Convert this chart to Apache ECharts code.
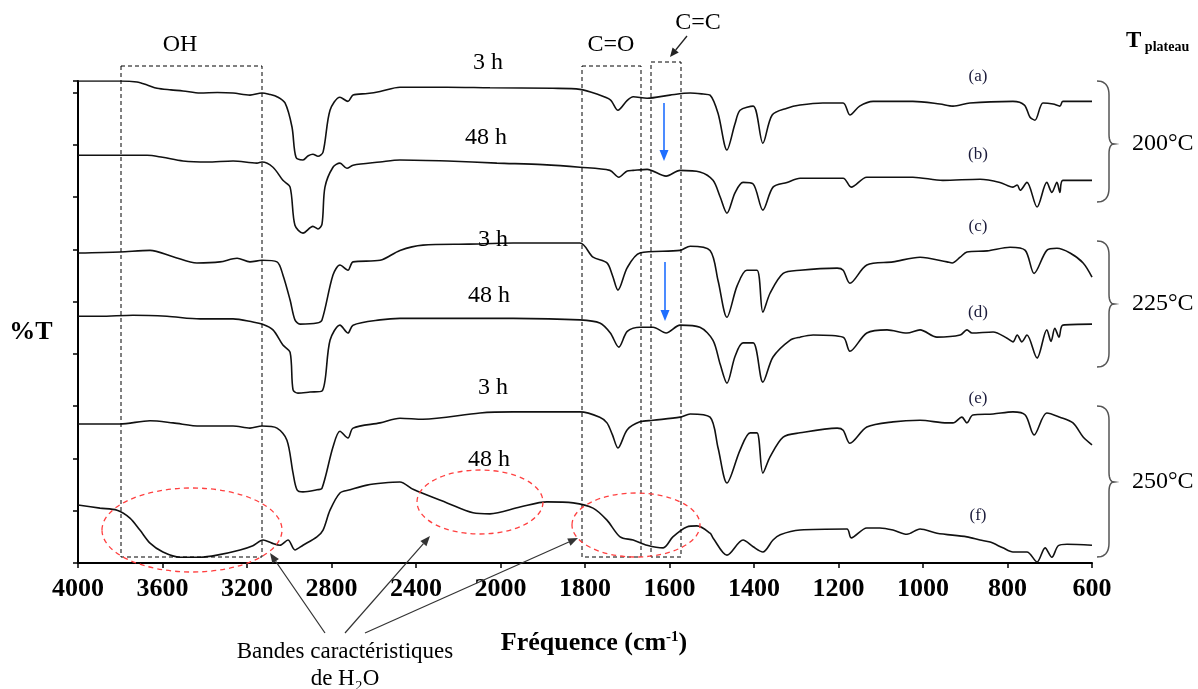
<!DOCTYPE html>
<html><head><meta charset="utf-8">
<script src="https://cdn.jsdelivr.net/npm/echarts@6/dist/echarts.min.js"></script>
<style>html,body{margin:0;padding:0;background:#fff}#c{width:1198px;height:689px}</style>
</head><body><div id="c"></div>
<script>
// x tick labels (wavenumber, cm-1): 400 steps above 2000, 200 steps below
const tickLabels = ['4000','3600','3200','2800','2400','2000','1800','1600','1400','1200','1000','800','600'];
const seriesNames = ['(a) 200°C 3 h','(b) 200°C 48 h','(c) 225°C 3 h','(d) 225°C 48 h','(e) 250°C 3 h','(f) 250°C 48 h'];

// [wavenumber cm-1, %T (offset, arbitrary units)]
const specA = [[4000,92.2],[3800,92.2],[3721,92.0],[3670,91.4],[3626,90.8],[3560,90.5],[3503,90.3],[3422,89.9],[3340,90.0],[3266,89.9],[3186,89.5],[3129,89.9],[3090,89.6],[3058,89.2],[3020,88.0],[2987,83.4],[2968,77.6],[2935,77.1],[2910,77.9],[2888,78.2],[2864,77.8],[2840,78.6],[2807,86.6],[2760,89.1],[2722,88.3],[2698,89.5],[2630,89.8],[2570,90.2],[2476,91.0],[2253,91.0],[2050,90.9],[1876,90.8],[1812,90.6],[1772,89.7],[1740,88.6],[1722,86.6],[1700,88.5],[1686,89.2],[1653,88.9],[1599,89.5],[1551,89.9],[1520,89.7],[1504,89.5],[1485,86.0],[1464,79.0],[1445,84.0],[1433,86.6],[1402,87.4],[1379,80.3],[1357,85.7],[1322,87.0],[1291,87.6],[1237,88.0],[1189,88.0],[1173,85.7],[1150,87.4],[1118,88.3],[1024,88.3],[960,87.8],[929,87.4],[889,88.0],[787,88.3],[760,87.6],[747,85.3],[735,84.7],[716,88.0],[692,87.8],[676,87.4],[669,88.3],[600,88.3]];
const specB = [[4000,78.0],[3673,78.0],[3600,77.6],[3503,76.9],[3389,76.7],[3266,76.9],[3153,76.5],[3129,76.7],[3077,75.7],[3030,73.2],[2996,71.9],[2973,64.6],[2935,63.1],[2888,64.4],[2864,63.9],[2845,64.8],[2831,71.9],[2793,75.7],[2760,76.5],[2727,75.5],[2698,76.1],[2570,76.7],[2476,77.1],[2250,76.9],[2017,76.5],[1900,76.2],[1812,75.7],[1741,75.1],[1720,73.8],[1700,75.0],[1686,75.1],[1653,75.3],[1608,74.0],[1575,75.1],[1528,74.8],[1497,73.2],[1480,70.0],[1464,66.9],[1445,70.8],[1426,72.8],[1402,72.5],[1379,67.5],[1355,71.9],[1322,72.8],[1291,73.6],[1189,73.6],[1170,71.9],[1133,73.8],[1024,73.8],[953,73.2],[865,73.4],[818,72.8],[787,71.9],[777,72.3],[770,71.3],[754,72.8],[730,68.1],[707,72.8],[695,70.9],[683,72.8],[676,70.9],[669,73.2],[600,73.2]];
const specC = [[4000,59.3],[3801,59.5],[3659,59.8],[3550,58.6],[3437,57.4],[3328,57.6],[3247,58.3],[3186,57.6],[3129,57.9],[3058,57.6],[3030,55.1],[2996,50.3],[2973,46.5],[2949,45.7],[2869,45.9],[2845,46.5],[2793,55.1],[2760,57.0],[2722,56.0],[2698,57.6],[2570,57.9],[2476,59.8],[2367,60.8],[2150,61.0],[1970,61.2],[1812,61.2],[1781,58.5],[1748,57.4],[1735,55.0],[1722,52.2],[1700,56.5],[1670,59.3],[1575,59.8],[1551,60.6],[1504,59.8],[1485,54.0],[1464,47.0],[1440,53.0],[1417,56.0],[1393,56.0],[1379,48.0],[1362,51.6],[1331,55.4],[1291,56.0],[1203,56.4],[1189,56.0],[1173,53.5],[1133,57.0],[1071,57.6],[1007,58.5],[943,57.6],[931,57.4],[912,58.5],[896,59.5],[848,59.7],[794,60.4],[758,59.8],[737,55.4],[707,59.8],[683,60.2],[652,59.3],[621,57.4],[600,54.7]];
const specD = [[4000,47.2],[3896,47.2],[3740,47.4],[3579,47.2],[3422,46.7],[3266,46.7],[3172,46.1],[3129,45.7],[3077,44.6],[3030,41.7],[2996,40.3],[2982,33.1],[2959,32.5],[2902,32.7],[2845,32.9],[2807,42.6],[2760,45.5],[2722,44.0],[2698,45.5],[2570,46.5],[2476,46.8],[2367,46.8],[1970,46.8],[1812,46.5],[1765,45.9],[1740,44.0],[1720,41.3],[1700,44.3],[1670,45.1],[1639,45.1],[1608,44.0],[1575,45.5],[1528,45.1],[1497,42.6],[1480,38.0],[1464,34.4],[1445,39.5],[1426,42.1],[1402,42.1],[1379,34.6],[1355,39.4],[1315,42.6],[1291,43.2],[1260,43.6],[1189,43.2],[1173,40.5],[1133,44.0],[1085,44.6],[1038,44.0],[1007,44.6],[967,43.2],[912,43.6],[896,44.6],[884,44.0],[834,44.2],[801,43.0],[787,42.3],[777,43.6],[766,42.3],[754,43.6],[730,39.2],[707,44.6],[697,42.4],[688,44.9],[678,43.2],[669,45.5],[600,45.7]];
const specE = [[4000,26.6],[3801,26.6],[3659,27.2],[3550,26.8],[3422,26.2],[3266,26.2],[3186,25.8],[3129,26.2],[3058,25.8],[3011,23.5],[2982,17.2],[2963,14.0],[2935,13.6],[2869,14.0],[2845,14.3],[2793,22.2],[2760,25.2],[2722,23.9],[2698,25.8],[2570,26.8],[2476,27.7],[2367,27.5],[2097,28.7],[1970,28.9],[1812,28.9],[1765,27.9],[1748,26.8],[1735,24.5],[1722,22.0],[1700,25.5],[1670,27.0],[1639,27.3],[1575,27.9],[1551,28.5],[1504,27.9],[1485,22.0],[1464,15.3],[1433,21.6],[1409,24.9],[1393,24.9],[1379,17.2],[1362,20.3],[1331,24.1],[1291,24.9],[1203,25.8],[1189,25.4],[1173,22.9],[1133,26.0],[1071,27.0],[1007,27.3],[943,26.8],[929,26.8],[908,27.9],[896,26.8],[882,28.3],[834,28.5],[787,28.9],[758,28.3],[737,24.5],[707,28.7],[676,27.9],[645,26.8],[621,24.1],[600,22.6]];
const specF = [[4000,11.1],[3896,10.5],[3815,10.1],[3754,8.6],[3707,6.3],[3659,3.8],[3598,2.1],[3517,1.1],[3422,1.1],[3342,1.5],[3233,2.5],[3172,3.3],[3124,4.4],[3082,3.8],[3044,3.4],[3006,4.4],[2973,2.5],[2935,3.4],[2869,5.0],[2840,6.3],[2807,10.1],[2760,13.4],[2712,14.0],[2632,14.9],[2556,15.3],[2476,15.5],[2414,14.1],[2253,11.5],[2130,9.6],[2050,9.4],[1954,10.7],[1890,11.7],[1828,11.5],[1781,10.5],[1748,8.2],[1717,5.0],[1686,4.4],[1653,3.4],[1615,2.9],[1592,5.0],[1559,6.9],[1535,7.1],[1504,5.7],[1497,4.8],[1464,1.5],[1426,4.4],[1402,3.1],[1379,2.1],[1355,4.4],[1338,5.4],[1291,6.3],[1180,6.5],[1170,4.8],[1133,6.7],[1102,6.7],[1071,6.3],[1038,5.5],[1007,6.5],[967,5.7],[896,5.0],[865,4.4],[841,4.0],[811,2.9],[787,2.1],[754,2.1],[730,0.2],[711,2.9],[695,1.1],[680,3.3],[659,3.6],[600,3.4]];

const spectra = [specA, specB, specC, specD, specE, specF];

// piecewise wavenumber scale: 400 cm-1 per tick above 2000, 200 cm-1 per tick below
function u(w) { return w >= 2000 ? (4000 - w) / 400 : 5 + (2000 - w) / 200; }

const SERIF = '"Liberation Serif", "DejaVu Serif", serif';
const chart = echarts.init(document.getElementById('c'), null, { renderer: 'canvas' });

function txt(x, y, text, size, opts) {
  opts = opts || {};
  return { type: 'text', x: x, y: y, z: 100, style: Object.assign({ text: text, fontFamily: SERIF, fontSize: size,
    fontWeight: opts.bold ? 'bold' : 'normal', fill: opts.color || '#000', align: opts.align || 'center', verticalAlign: 'middle' }, opts.extra || {}) };
}
function arrow(x1, y1, x2, y2, color, w, hl, hw) {
  const a = Math.atan2(y2 - y1, x2 - x1);
  const bx = x2 - hl * Math.cos(a), by = y2 - hl * Math.sin(a);
  const px = -Math.sin(a) * hw / 2, py = Math.cos(a) * hw / 2;
  return [
    { type: 'line', z: 100, shape: { x1: x1, y1: y1, x2: bx, y2: by }, style: { stroke: color, lineWidth: w } },
    { type: 'polygon', z: 100, shape: { points: [[x2, y2], [bx + px, by + py], [bx - px, by - py]] }, style: { fill: color } }
  ];
}
function quad(p0, p1, p2, n, out) {
  for (let i = 0; i <= n; i++) {
    const t = i / n, s = 1 - t;
    out.push([s * s * p0[0] + 2 * s * t * p1[0] + t * t * p2[0], s * s * p0[1] + 2 * s * t * p1[1] + t * t * p2[1]]);
  }
}
function brace(x0, y0, y1, ym) {
  const xv = x0 + 12, xt = x0 + 17;
  const pts = [];
  quad([x0, y0], [xv, y0], [xv, y0 + 14], 10, pts);
  quad([xv, ym - 10], [xv, ym], [xt, ym], 8, pts);
  quad([xt, ym], [xv, ym], [xv, ym + 10], 8, pts);
  quad([xv, y1 - 14], [xv, y1], [x0, y1], 10, pts);
  return { type: 'polyline', z: 100, shape: { points: pts }, style: { fill: 'none', stroke: '#555', lineWidth: 1.5 } };
}
function dashRect(x, y, w, h) {
  return { type: 'rect', z: 90, shape: { x: x, y: y, width: w, height: h }, style: { fill: 'none', stroke: '#000', lineWidth: 1, lineDash: [4, 3] } };
}
function ell(cx, cy, rx, ry) {
  return { type: 'ellipse', z: 95, shape: { cx: cx, cy: cy, rx: rx, ry: ry }, style: { fill: 'none', stroke: '#ff4040', lineWidth: 1.3, lineDash: [5, 4] } };
}

const graphics = [].concat(
  [dashRect(121, 66, 141, 491), dashRect(582, 66, 59, 491), dashRect(651, 62, 30, 495)],
  [ell(192, 530, 90, 42), ell(480, 502, 63, 32), ell(636, 525, 64, 32)],
  [txt(180, 45, 'OH', 24), txt(611, 45, 'C=O', 24), txt(698, 23, 'C=C', 24)],
  arrow(687, 36, 670, 57, '#222', 1.3, 9, 8),
  arrow(664, 103, 664, 161, '#1f6fff', 1.6, 11, 9),
  arrow(665, 262, 665, 321, '#1f6fff', 1.6, 11, 9),
  [txt(488, 63, '3 h', 24), txt(486, 138, '48 h', 24), txt(493, 240, '3 h', 24), txt(489, 296, '48 h', 24), txt(493, 388, '3 h', 24), txt(489, 460, '48 h', 24)],
  [txt(978, 77, '(a)', 17, { color: '#1c1c3c' }), txt(978, 155, '(b)', 17, { color: '#1c1c3c' }), txt(978, 227, '(c)', 17, { color: '#1c1c3c' }),
   txt(978, 313, '(d)', 17, { color: '#1c1c3c' }), txt(978, 399, '(e)', 17, { color: '#1c1c3c' }), txt(978, 516, '(f)', 17, { color: '#1c1c3c' })],
  [brace(1097, 81, 202, 144), brace(1097, 241, 367, 304), brace(1097, 406, 557, 482)],
  [txt(1132, 144, '200°C', 24, { align: 'left' }), txt(1132, 304, '225°C', 24, { align: 'left' }), txt(1132, 482, '250°C', 24, { align: 'left' })],
  [{ type: 'text', x: 1126, y: 28, z: 100, style: { text: '{t|T}{s| plateau}', fontFamily: SERIF, fill: '#000',
      rich: { t: { fontFamily: SERIF, fontSize: 23, fontWeight: 'bold', fill: '#000' },
              s: { fontFamily: SERIF, fontSize: 14, fontWeight: 'bold', fill: '#000', padding: [12, 0, 0, 0] } } } }],
  [txt(31, 332, '%T', 26, { bold: true })],
  [{ type: 'text', x: 594, y: 643, z: 100, style: { text: '{a|Fréquence (cm}{s|-1}{a|)}', fontFamily: SERIF, fill: '#000', align: 'center', verticalAlign: 'middle',
      rich: { a: { fontFamily: SERIF, fontSize: 26, fontWeight: 'bold', fill: '#000' },
              s: { fontFamily: SERIF, fontSize: 15, fontWeight: 'bold', fill: '#000', padding: [0, 0, 12, 0] } } } }],
  [txt(345, 652, 'Bandes caractéristiques', 23), txt(345, 679, 'de H₂O', 23)],
  arrow(325, 633, 270, 553, '#333', 1.2, 10, 8),
  arrow(345, 633, 430, 536, '#333', 1.2, 10, 8),
  arrow(365, 633, 578, 538, '#333', 1.2, 10, 8)
);

const option = {
  animation: false,
  backgroundColor: '#fff',
  grid: { left: 78, right: 106, top: 81, bottom: 126 },
  xAxis: {
    type: 'value', min: 0, max: 12, interval: 1,
    axisLine: { show: true, lineStyle: { color: '#000', width: 2 } },
    axisTick: { show: true, length: 5, lineStyle: { color: '#000', width: 1.5 } },
    axisLabel: { formatter: v => tickLabels[Math.round(v)], fontFamily: SERIF, fontWeight: 'bold', fontSize: 26, color: '#000', margin: 13 },
    splitLine: { show: false }
  },
  yAxis: {
    type: 'value', min: 0, max: 92.2, interval: 10,
    axisLine: { show: true, lineStyle: { color: '#000', width: 2 } },
    axisTick: { show: true, length: 5, lineStyle: { color: '#000', width: 1.5 } },
    axisLabel: { show: false },
    splitLine: { show: false }
  },
  series: spectra.map((s, i) => ({
    name: seriesNames[i], type: 'line', showSymbol: false, smooth: 0.3,
    lineStyle: { color: '#111', width: 1.6 },
    data: s.map(p => [u(p[0]), p[1]])
  })),
  graphic: graphics
};
chart.setOption(option);
</script></body></html>
